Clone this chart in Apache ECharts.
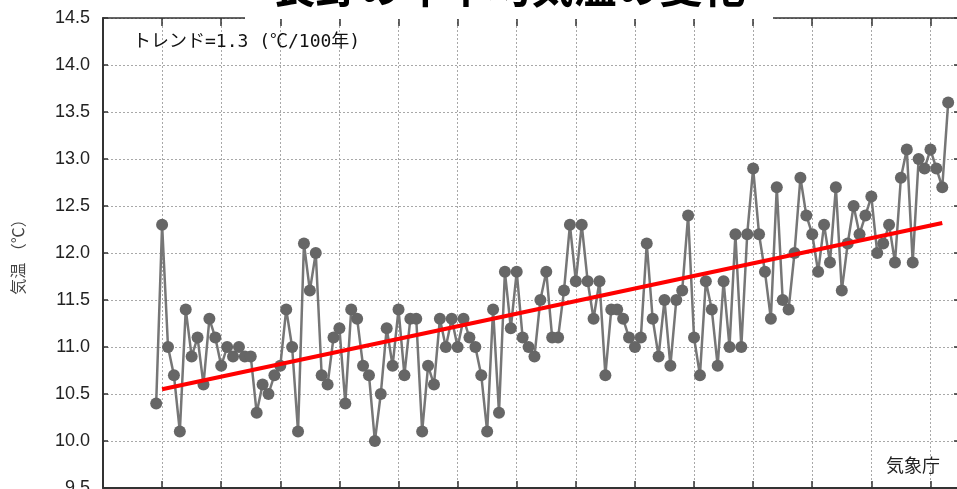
<!DOCTYPE html>
<html>
<head>
<meta charset="utf-8">
<script src="https://cdn.jsdelivr.net/npm/echarts@6/dist/echarts.min.js"></script>
<style>
  html, body { margin: 0; padding: 0; background: #fff; }
  #chart { width: 957px; height: 489px; }
</style>
</head>
<body>
<div id="chart"></div>
<script>
// Annual mean temperature (°C), one value per year
const years = [
  1889,
  1890, 1891, 1892, 1893, 1894, 1895, 1896, 1897, 1898, 1899,
  1900, 1901, 1902, 1903, 1904, 1905, 1906, 1907, 1908, 1909,
  1910, 1911, 1912, 1913, 1914, 1915, 1916, 1917, 1918, 1919,
  1920, 1921, 1922, 1923, 1924, 1925, 1926, 1927, 1928, 1929,
  1930, 1931, 1932, 1933, 1934, 1935, 1936, 1937, 1938, 1939,
  1940, 1941, 1942, 1943, 1944, 1945, 1946, 1947, 1948, 1949,
  1950, 1951, 1952, 1953, 1954, 1955, 1956, 1957, 1958, 1959,
  1960, 1961, 1962, 1963, 1964, 1965, 1966, 1967, 1968, 1969,
  1970, 1971, 1972, 1973, 1974, 1975, 1976, 1977, 1978, 1979,
  1980, 1981, 1982, 1983, 1984, 1985, 1986, 1987, 1988, 1989,
  1990, 1991, 1992, 1993, 1994, 1995, 1996, 1997, 1998, 1999,
  2000, 2001, 2002, 2003, 2004, 2005, 2006, 2007, 2008, 2009,
  2010, 2011, 2012, 2013, 2014, 2015, 2016, 2017, 2018, 2019,
  2020, 2021, 2022, 2023
];
const temps = [
  10.4,
  12.3, 11.0, 10.7, 10.1, 11.4, 10.9, 11.1, 10.6, 11.3, 11.1,
  10.8, 11.0, 10.9, 11.0, 10.9, 10.9, 10.3, 10.6, 10.5, 10.7,
  10.8, 11.4, 11.0, 10.1, 12.1, 11.6, 12.0, 10.7, 10.6, 11.1,
  11.2, 10.4, 11.4, 11.3, 10.8, 10.7, 10.0, 10.5, 11.2, 10.8,
  11.4, 10.7, 11.3, 11.3, 10.1, 10.8, 10.6, 11.3, 11.0, 11.3,
  11.0, 11.3, 11.1, 11.0, 10.7, 10.1, 11.4, 10.3, 11.8, 11.2,
  11.8, 11.1, 11.0, 10.9, 11.5, 11.8, 11.1, 11.1, 11.6, 12.3,
  11.7, 12.3, 11.7, 11.3, 11.7, 10.7, 11.4, 11.4, 11.3, 11.1,
  11.0, 11.1, 12.1, 11.3, 10.9, 11.5, 10.8, 11.5, 11.6, 12.4,
  11.1, 10.7, 11.7, 11.4, 10.8, 11.7, 11.0, 12.2, 11.0, 12.2,
  12.9, 12.2, 11.8, 11.3, 12.7, 11.5, 11.4, 12.0, 12.8, 12.4,
  12.2, 11.8, 12.3, 11.9, 12.7, 11.6, 12.1, 12.5, 12.2, 12.4,
  12.6, 12.0, 12.1, 12.3, 11.9, 12.8, 13.1, 11.9, 13.0, 12.9,
  13.1, 12.9, 12.7, 13.6
];

// Long-term trend line (1.3 °C per 100 years), end points
const trendYears = [1890, 2022];
const trendValues = [10.55, 12.32];

// Axis tick values
const yTicks = [9.5, 10.0, 10.5, 11.0, 11.5, 12.0, 12.5, 13.0, 13.5, 14.0, 14.5];
const xTickStep = 10;

const titleText = '長野の年平均気温の変化';
const trendText = 'トレンド=1.3 (℃/100年)';
const sourceText = '気象庁';
const yName = '気温 （℃）';

const jp = '"Noto Sans CJK JP", "Noto Sans", sans-serif';
const mono = '"DejaVu Sans Mono", "Noto Sans CJK JP", monospace';
const num = '"Liberation Sans", Arial, sans-serif';

const chart = echarts.init(document.getElementById('chart'), null, { renderer: 'canvas' });

const yMin = yTicks[0], yMax = yTicks[yTicks.length - 1];
const yStep = yTicks[1] - yTicks[0];

const gridDots = { color: '#a8a8a8', width: 1, type: [2, 2] };
const frameColor = '#333';

chart.setOption({
  animation: false,
  backgroundColor: '#fff',
  grid: {
    left: 103, top: 18, width: 857, height: 470,
    containLabel: false, outerBoundsMode: 'none'
  },
  xAxis: [
    {
      type: 'value', min: 1880, max: 2025, interval: xTickStep, position: 'bottom',
      axisLine: { show: true, onZero: false, lineStyle: { color: frameColor, width: 2 } },
      axisTick: { show: true, inside: true, length: 7, lineStyle: { color: frameColor, width: 1.5 } },
      axisLabel: { show: false },
      splitLine: { show: true, lineStyle: gridDots }
    },
    {
      type: 'value', min: 1880, max: 2025, interval: xTickStep, position: 'top',
      axisLine: { show: true, onZero: false, lineStyle: { color: frameColor, width: 1.5 } },
      axisTick: { show: true, inside: true, length: 8, lineStyle: { color: frameColor, width: 1.5 } },
      axisLabel: { show: false },
      splitLine: { show: false }
    }
  ],
  yAxis: [
    {
      type: 'value', min: yMin, max: yMax, interval: yStep, position: 'left',
      name: yName, nameLocation: 'middle', nameGap: 77, nameRotate: 90,
      nameTextStyle: { fontFamily: jp, fontSize: 16, color: '#444' },
      axisLine: { show: true, onZero: false, lineStyle: { color: frameColor, width: 2 } },
      axisTick: { show: true, inside: true, length: 5, lineStyle: { color: frameColor, width: 1.5 } },
      axisLabel: {
        show: true, margin: 13, fontSize: 18, color: '#222', fontFamily: num,
        formatter: v => v.toFixed(1)
      },
      splitLine: { show: true, lineStyle: gridDots }
    },
    {
      type: 'value', min: yMin, max: yMax, interval: yStep, position: 'right',
      axisLine: { show: true, onZero: false, lineStyle: { color: frameColor, width: 2 } },
      axisTick: { show: true, inside: true, length: 6, lineStyle: { color: frameColor, width: 1.5 } },
      axisLabel: { show: false },
      splitLine: { show: false }
    }
  ],
  series: [
    {
      name: '年平均気温',
      type: 'line',
      data: years.map((y, i) => [y, temps[i]]),
      symbol: 'circle',
      symbolSize: 12,
      showSymbol: true,
      lineStyle: { color: '#767676', width: 2.5 },
      itemStyle: { color: '#666666' },
      emphasis: { disabled: true },
      z: 3
    },
    {
      name: 'トレンド',
      type: 'line',
      data: trendYears.map((y, i) => [y, trendValues[i]]),
      symbol: 'none',
      lineStyle: { color: '#ff0000', width: 4 },
      emphasis: { disabled: true },
      z: 4
    }
  ],
  graphic: [
    {
      type: 'rect', z: 100,
      shape: { x: 245, y: -10, width: 528, height: 29 },
      style: { fill: '#fff' }
    },
    {
      type: 'text', z: 101, x: 509, y: -13,
      style: {
        text: titleText, fill: '#000',
        font: 'bold 43px ' + jp,
        textAlign: 'center', textVerticalAlign: 'middle'
      }
    },
    {
      type: 'text', z: 101, x: 133, y: 42,
      style: {
        text: trendText, fill: '#111',
        font: '18px ' + mono,
        textAlign: 'left', textVerticalAlign: 'middle'
      }
    },
    {
      type: 'text', z: 101, x: 913, y: 465,
      style: {
        text: sourceText, fill: '#222',
        font: '18px ' + jp,
        textAlign: 'center', textVerticalAlign: 'middle'
      }
    }
  ]
});
</script>
</body>
</html>
